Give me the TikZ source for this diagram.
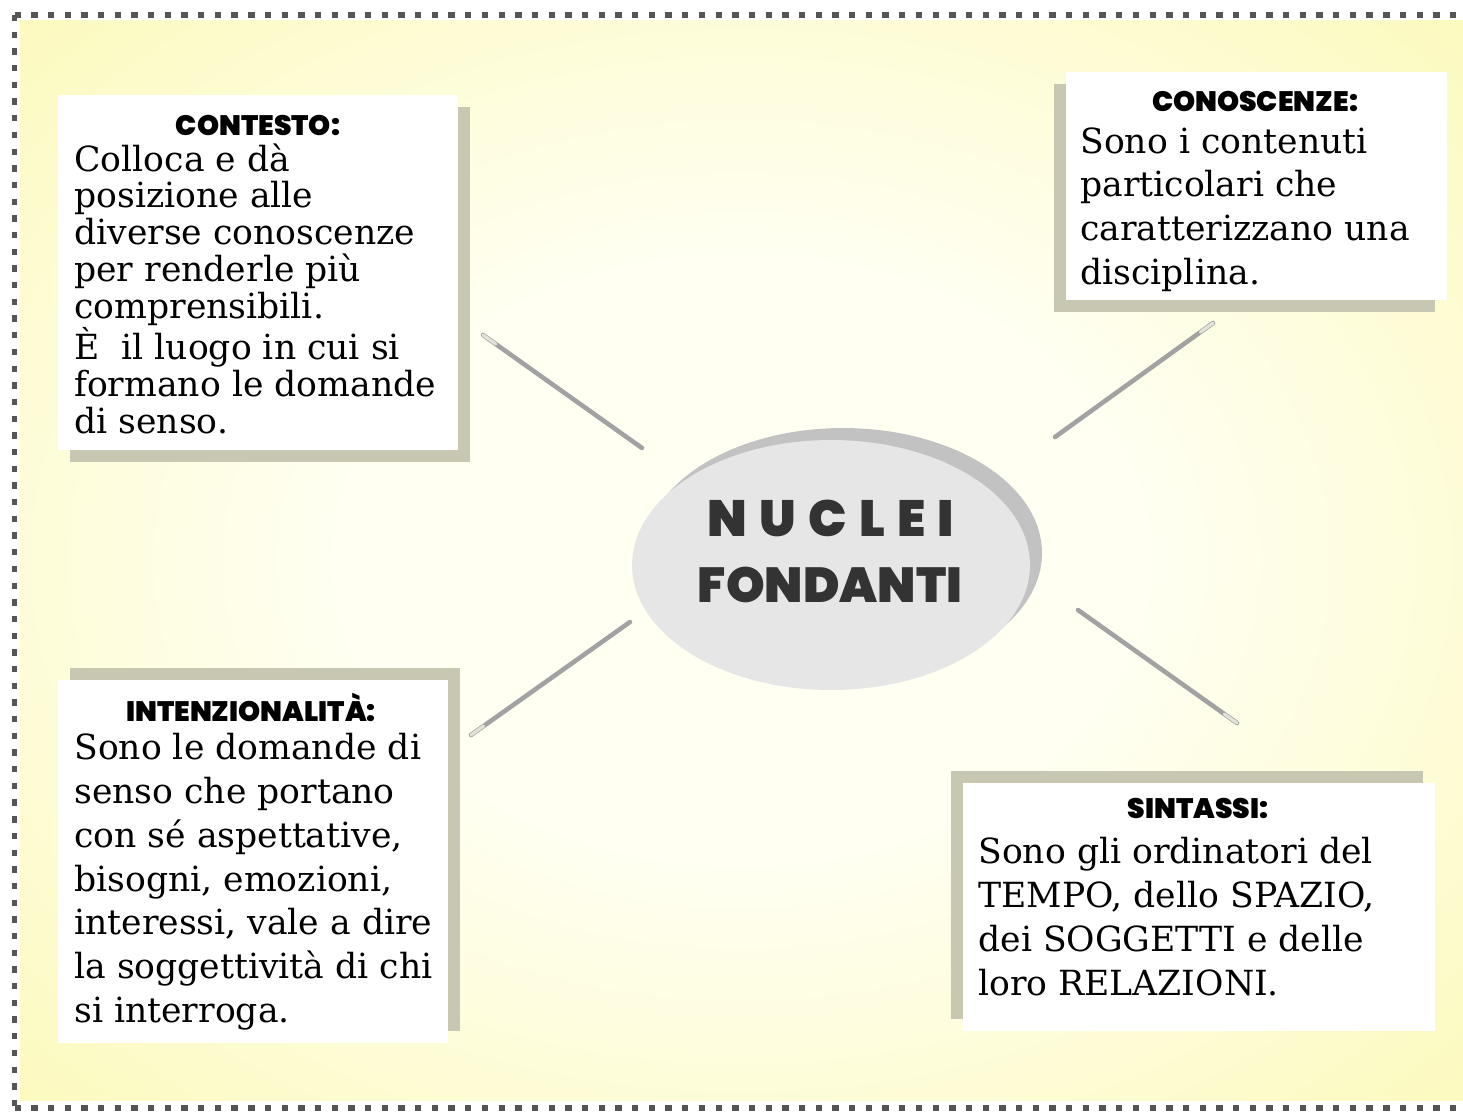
\documentclass[tikz,border=0pt]{standalone}
\usepackage{fontspec}
\usetikzlibrary{shapes.geometric,calc}
\newfontfamily\bodyfont{DejaVu Serif}
\newfontfamily\headfont{Poppins}[UprightFont=* Black, BoldFont=* Black]
\definecolor{bgy}{HTML}{FAF7A0}
\definecolor{bgc}{HTML}{FFFFF2}
\definecolor{shadowc}{HTML}{C8C8B2}
\definecolor{ellc}{HTML}{E6E6E6}
\definecolor{ellsh}{HTML}{C2C2C2}
\definecolor{titlec}{HTML}{333333}
\definecolor{dashc}{HTML}{555555}
\definecolor{connc}{HTML}{A2A2A2}
\definecolor{conntipc}{HTML}{E2E2DA}
\pgfdeclareradialshading{bgshade}{\pgfpoint{0bp}{0bp}}{color(0bp)=(bgc); color(14bp)=(bgc); color(48bp)=(bgy); color(100bp)=(bgy)}
\begin{document}
\begin{tikzpicture}[x=0.02cm,y=-0.02cm,
 panel/.style={rectangle, fill=white, draw=none, inner sep=0pt},
 panelshadow/.style={rectangle, fill=shadowc, draw=none, inner sep=0pt},
 heading/.style={inner sep=0pt, font=\headfont\fontsize{16}{19}\selectfont, text=black},
 body/.style={inner sep=0pt, anchor=north west, align=left, font=\bodyfont\fontsize{19.7}{24.94}\selectfont, text=black},
 conn/.style={draw=connc, line width=2.6pt, line cap=round},
 conntip/.style={draw=conntipc, line width=1.8pt, line cap=round},
 border/.style={draw=dashc, line width=3pt, dash pattern=on 3.6pt off 5.9pt},
 title/.style={inner sep=0pt, font=\headfont\fontsize{29}{33}\selectfont, text=titlec}
]
\useasboundingbox (0,0) rectangle (1463,1113);
\fill[white] (0,0) rectangle (1463,1113);
\shade[shading=bgshade] (20,20) rectangle (1463,1100);
% dotted frame
\draw[border] (14.5,15) -- (1463,15);
\draw[border] (14.5,15) -- (14.5,1108);
\draw[border] (14.5,1108) -- (1463,1108);

% connectors
\coordinate (l1a) at (483,335); \coordinate (l1b) at (642,448);
\coordinate (l2a) at (1213,323); \coordinate (l2b) at (1055,437);
\coordinate (l3a) at (471,735); \coordinate (l3b) at (630,622);
\coordinate (l4a) at (1237,723); \coordinate (l4b) at (1078,610);
\foreach \k in {1,2,3,4}{
  \draw[conn] (l\k a) -- (l\k b);
  \draw[conntip] (l\k a) -- ($(l\k a)!0.08!(l\k b)$);
}

% central ellipse
\node[ellipse, fill=ellsh, minimum width=7.96cm, minimum height=5cm, inner sep=0pt] (coresh) at (843,553) {};
\node[ellipse, fill=ellc, minimum width=7.96cm, minimum height=5cm, inner sep=0pt] (core) at (831,565) {};
\node[title] (t1) at (831,518) {N\hspace{7pt}U\hspace{7pt}C\hspace{7pt}L\hspace{7pt}E\hspace{7pt}I};
\node[title, font=\headfont\fontsize{28}{32}\selectfont] (t2) at (830,585) {FONDANTI};

% panel shadows and panels
\node[panelshadow, minimum width=8cm, minimum height=7.1cm] (ctxsh) at (270,284.5) {};
\node[panel, minimum width=8cm, minimum height=7.1cm] (ctx) at (258,272.5) {};
\node[panelshadow, minimum width=7.62cm, minimum height=4.56cm] (consh) at (1244.5,198) {};
\node[panel, minimum width=7.62cm, minimum height=4.56cm] (con) at (1256.5,186) {};
\node[panelshadow, minimum width=7.8cm, minimum height=7.26cm] (intsh) at (265,849.5) {};
\node[panel, minimum width=7.8cm, minimum height=7.26cm] (int) at (253,861.5) {};
\node[panelshadow, minimum width=9.44cm, minimum height=4.96cm] (sinsh) at (1187,895) {};
\node[panel, minimum width=9.44cm, minimum height=4.96cm] (sin) at (1199,907) {};

% headings
\node[heading] (hctx) at (258,125) {CONTESTO:};
\node[heading] (hcon) at (1255,101) {CONOSCENZE:};
\node[heading] (hint) at (251,707) {INTENZIONALITÀ:};
\node[heading] (hsin) at (1198,808) {SINTASSI:};

% texts
\node[body, font=\bodyfont\fontsize{19.7}{20.98}\selectfont] (bctx) at (74,143) {Colloca e dà\\posizione alle\\diverse conoscenze\\per renderle più\\comprensibili.\\È\ \ il luogo in cui si\\formano le domande\\di senso.};
\node[body] (bcon) at (1080,127) {Sono i contenuti\\particolari che\\caratterizzano una\\disciplina.};
\node[body] (bint) at (74,733) {Sono le domande di\\senso che portano\\con sé aspettative,\\bisogni, emozioni,\\interessi, vale a dire\\la soggettività di chi\\si interroga.};
\node[body] (bsin) at (978,837) {Sono gli ordinatori del\\TEMPO, dello SPAZIO,\\dei SOGGETTI e delle\\loro RELAZIONI.};
\end{tikzpicture}
\end{document}
